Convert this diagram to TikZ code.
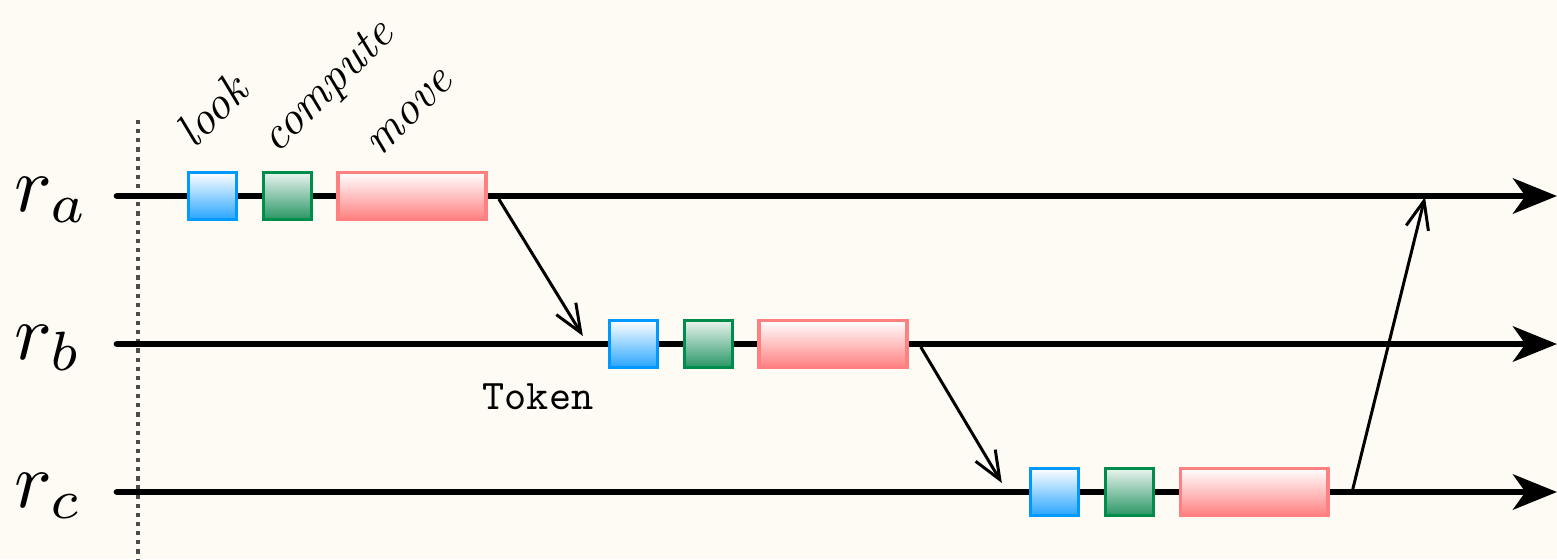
\documentclass[tikz,border=0pt]{standalone}
\usepackage{tikz}
\usetikzlibrary{arrows.meta,positioning}

\definecolor{paper}{RGB}{253,251,243}
\definecolor{lookline}{RGB}{0,153,255}
\definecolor{lookfill}{RGB}{40,165,255}
\definecolor{compline}{RGB}{0,140,75}
\definecolor{compfill}{RGB}{40,150,100}
\definecolor{moveline}{RGB}{255,128,128}

\begin{document}
\begin{tikzpicture}
	[x=0.02cm,y=-0.02cm,node distance=0.47cm,
	timeline/.style={line width=3.8pt,line cap=round,-{Stealth[length=25pt,width=20pt,inset=7pt]}},
	guide/.style={draw=black!70,line width=1.9pt,dash pattern=on 2.4pt off 2.8pt},
	box/.style={draw,line width=1.9pt,inner sep=0pt,minimum height=0.94cm},
	look/.style={box,draw=lookline,top color=white,bottom color=lookfill,minimum width=0.96cm},
	comp/.style={box,draw=compline,top color=white!90!compfill,bottom color=compfill,minimum width=0.96cm},
	move/.style={box,draw=moveline,top color=white,bottom color=moveline,minimum width=2.96cm},
	phase/.style={rotate=45,anchor=base west,inner sep=0pt,scale=2.65,font=\normalsize\itshape},
	robot/.style={anchor=base west,inner sep=0pt,scale=4.5,font=\normalsize},
	token/.style={line width=1.7pt,-{Straight Barb[length=16pt,width=13pt]}}]
	\useasboundingbox (0,0) rectangle (1557,559);
	\fill[paper] (0,0) rectangle (1557,559);
	
	% time lines
	\coordinate (sa) at (117,196);
	\coordinate (sb) at (117,344);
	\coordinate (sc) at (117,492);
	\coordinate (ea) at (1557,196);
	\coordinate (eb) at (1557,344);
	\coordinate (ec) at (1557,492);
	\draw[guide] (138,120) -- (138,559);
	\draw[timeline] (sa) -- (ea);
	\draw[timeline] (sb) -- (eb);
	\draw[timeline] (sc) -- (ec);
	
	\node [robot] (ra) at (13,211) {$r_a$};
	\node [robot] (rb) at (13,359) {$r_b$};
	\node [robot] (rc) at (13,507) {$r_c$};
	
	% look, compute, move of each robot
	\node [look] (la) at (212.5,196) {};
	\node [comp] (ca) [right=of la] {};
	\node [move] (ma) [right=of ca] {};
	
	\node [look] (lb) at (633.5,344) {};
	\node [comp] (cb) [right=of lb] {};
	\node [move] (mb) [right=of cb] {};
	
	\node [look] (lc) at (1054.5,492) {};
	\node [comp] (cc) [right=of lc] {};
	\node [move] (mc) [right=of cc] {};
	
	\node [phase] (tlook) at (194,150) {look};
	\node [phase] (tcomp) at (277,155) {compute};
	\node [phase] (tmove) at (380,158) {move};
	
	\node [scale=2.4,font=\normalsize\ttfamily] (tok) at (538,397) {Token};
	
	% passing the token
	\coordinate (back) at (1425,197);
	\draw[token] ([xshift=0.22cm,yshift=-0.06cm]ma.east) -- ([xshift=-0.5cm,yshift=0.16cm]lb.west);
	\draw[token] ([xshift=0.24cm,yshift=-0.06cm]mb.east) -- ([xshift=-0.54cm,yshift=0.18cm]lc.west);
	\draw[token] ([xshift=0.46cm,yshift=0.06cm]mc.east) -- (back);
	
\end{tikzpicture}
\end{document}
